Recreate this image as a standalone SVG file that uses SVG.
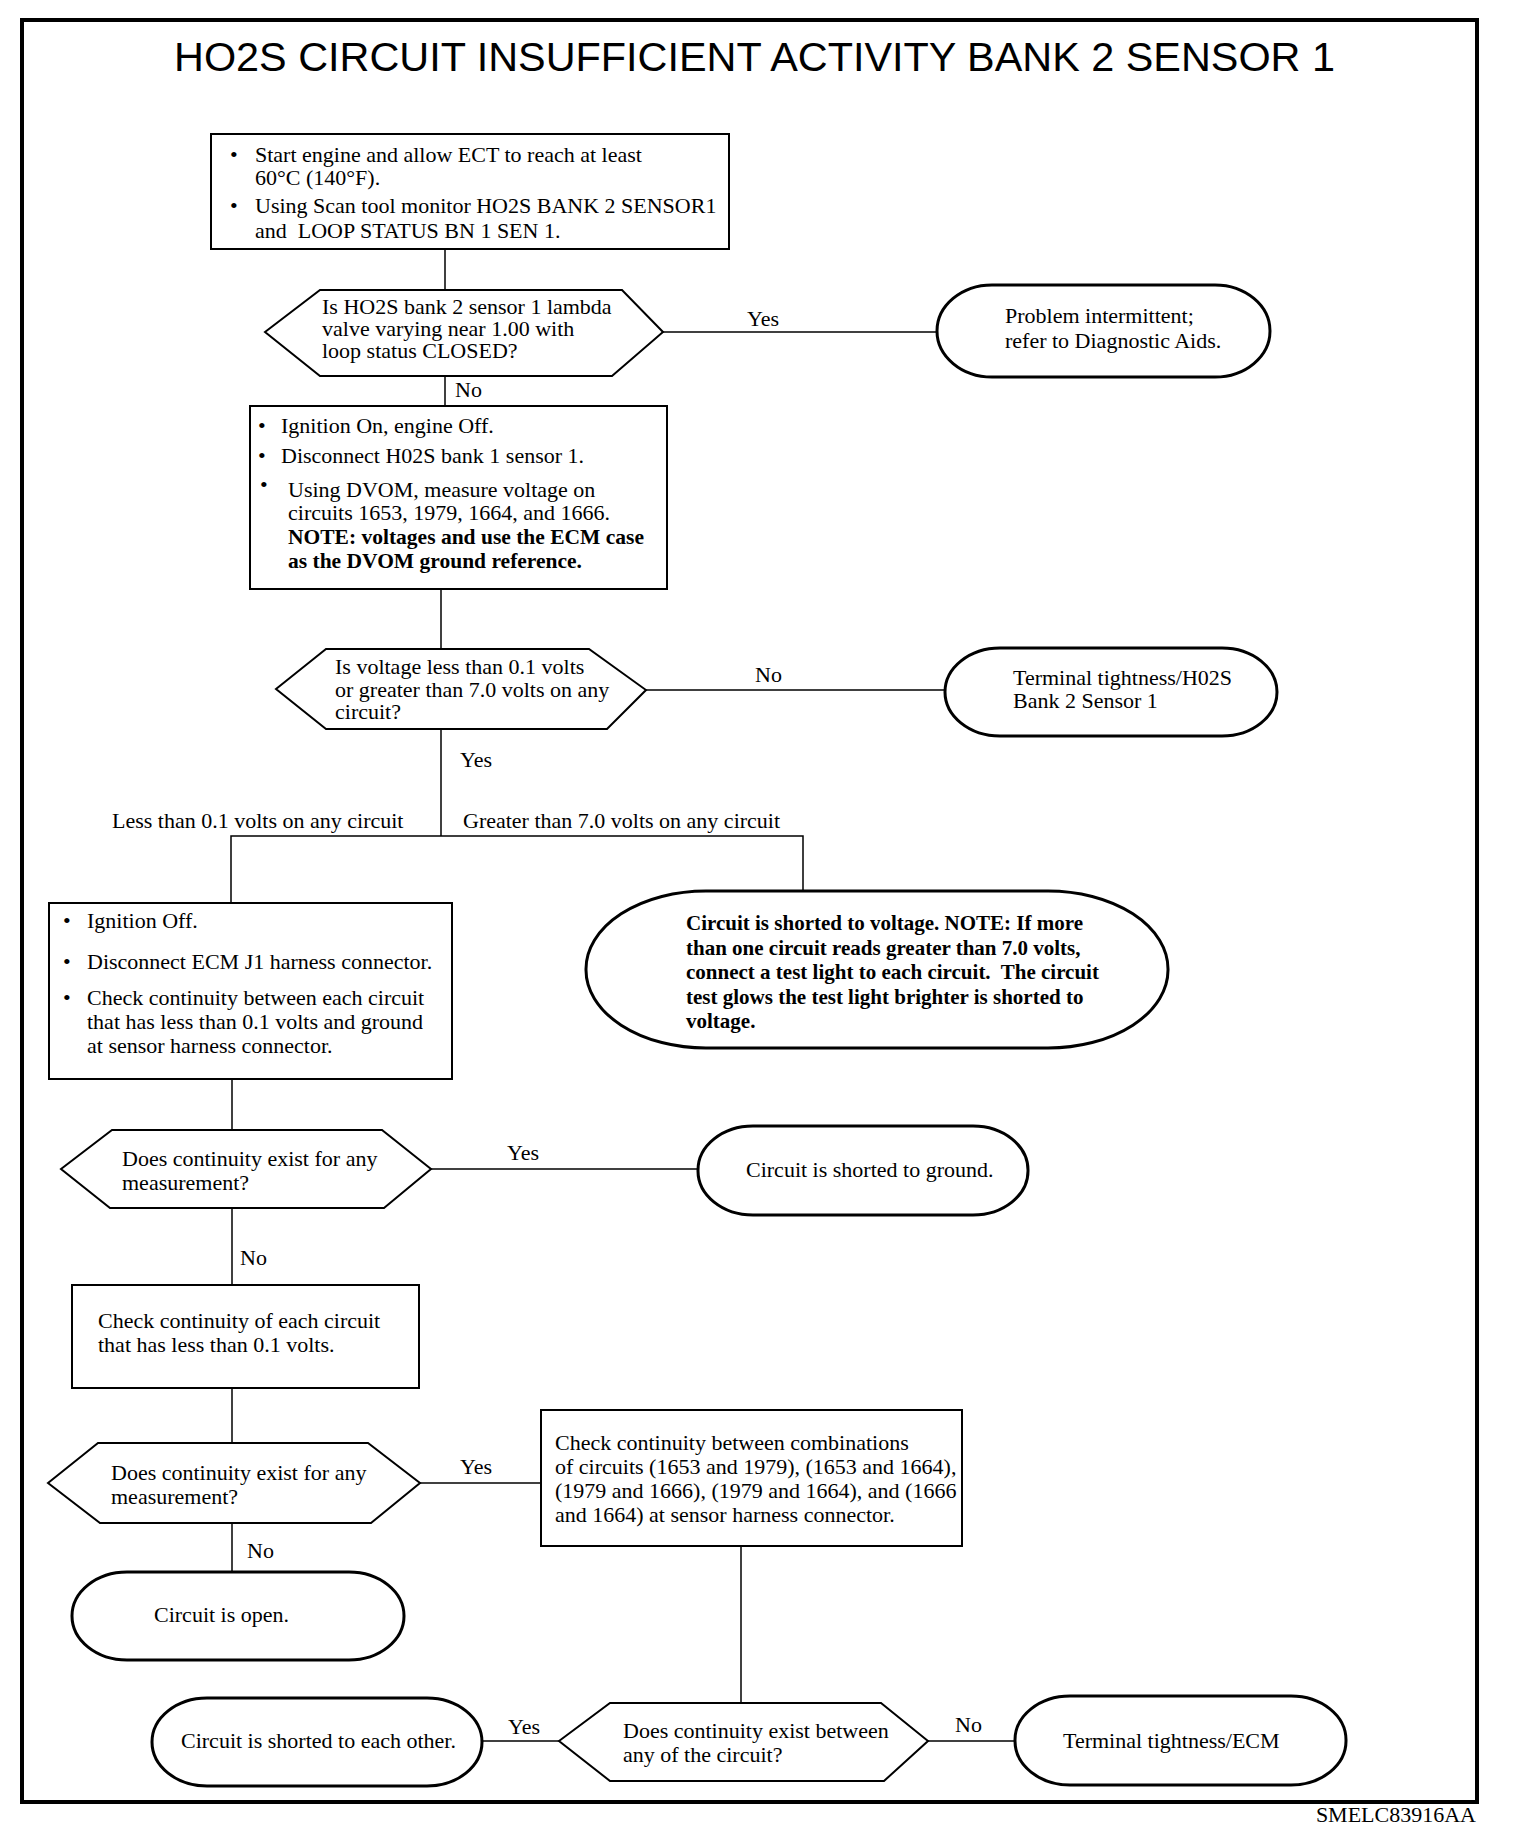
<svg xmlns="http://www.w3.org/2000/svg" width="1520" height="1840" viewBox="0 0 1520 1840">
<style>
.frame{fill:none;stroke:#000;stroke-width:4}
.box{fill:#fff;stroke:#000;stroke-width:2}
.dec{fill:#fff;stroke:#000;stroke-width:2;stroke-linejoin:miter}
.term{fill:#fff;stroke:#000;stroke-width:3}
.conn{fill:none;stroke:#000;stroke-width:1.5}
.t{font-family:"Liberation Serif","Times New Roman",serif;font-size:22px;fill:#000}
.b{font-weight:bold;font-size:21.5px}
.title{font-family:"Liberation Sans",Arial,sans-serif;font-size:40px;fill:#000}
</style>
<rect width="1520" height="1840" fill="#fff"/>
<rect class="frame" x="22" y="20" width="1455" height="1782"/>
<text class="title" x="174" y="71" textLength="1161" lengthAdjust="spacingAndGlyphs">HO2S CIRCUIT INSUFFICIENT ACTIVITY BANK 2 SENSOR 1</text>

<g id="connectors">
<line class="conn" x1="445" y1="249" x2="445" y2="290"/>
<line class="conn" x1="663" y1="332" x2="937" y2="332"/>
<line class="conn" x1="445" y1="376" x2="445" y2="406"/>
<line class="conn" x1="441" y1="589" x2="441" y2="649"/>
<line class="conn" x1="646" y1="690" x2="945" y2="690"/>
<line class="conn" x1="441" y1="729" x2="441" y2="836"/>
<polyline class="conn" points="231,903 231,836 803,836 803,891"/>
<line class="conn" x1="232" y1="1079" x2="232" y2="1130"/>
<line class="conn" x1="431" y1="1169" x2="698" y2="1169"/>
<line class="conn" x1="232" y1="1209" x2="232" y2="1285"/>
<line class="conn" x1="232" y1="1388" x2="232" y2="1443"/>
<line class="conn" x1="420" y1="1483" x2="541" y2="1483"/>
<line class="conn" x1="232" y1="1523" x2="232" y2="1572"/>
<line class="conn" x1="741" y1="1546" x2="741" y2="1703"/>
<line class="conn" x1="482" y1="1741" x2="559" y2="1741"/>
<line class="conn" x1="928" y1="1741" x2="1015" y2="1741"/>
<text class="t" x="747" y="326">Yes</text>
<text class="t" x="455" y="397">No</text>
<text class="t" x="755" y="682">No</text>
<text class="t" x="460" y="767">Yes</text>
<text class="t" x="112" y="828">Less than 0.1 volts on any circuit</text>
<text class="t" x="463" y="828">Greater than 7.0 volts on any circuit</text>
<text class="t" x="507" y="1160">Yes</text>
<text class="t" x="240" y="1265">No</text>
<text class="t" x="460" y="1474">Yes</text>
<text class="t" x="247" y="1558">No</text>
<text class="t" x="508" y="1734">Yes</text>
<text class="t" x="955" y="1732">No</text>
</g>

<g id="step1">
<rect class="box" x="211" y="134" width="518" height="115"/>
<text class="t" x="230" y="162">•</text>
<text class="t" x="255" y="162">Start engine and allow ECT to reach at least</text>
<text class="t" x="255" y="185">60°C (140°F).</text>
<text class="t" x="230" y="213">•</text>
<text class="t" x="255" y="213">Using Scan tool monitor HO2S BANK 2 SENSOR1</text>
<text class="t" x="255" y="238" xml:space="preserve">and  LOOP STATUS BN 1 SEN 1.</text>
</g>

<g id="dec1">
<polygon class="dec" points="265,332 320,290 622,290 663,332 612,376 320,376"/>
<text class="t" x="322" y="314">Is HO2S bank 2 sensor 1 lambda</text>
<text class="t" x="322" y="336">valve varying near 1.00 with</text>
<text class="t" x="322" y="358">loop status CLOSED?</text>
</g>

<g id="term1">
<rect class="term" x="937" y="285" width="333" height="92" rx="55" ry="46"/>
<text class="t" x="1005" y="323">Problem intermittent;</text>
<text class="t" x="1005" y="348">refer to Diagnostic Aids.</text>
</g>

<g id="step2">
<rect class="box" x="250" y="406" width="417" height="183"/>
<text class="t" x="258" y="433">•</text>
<text class="t" x="281" y="433">Ignition On, engine Off.</text>
<text class="t" x="258" y="463">•</text>
<text class="t" x="281" y="463">Disconnect H02S bank 1 sensor 1.</text>
<text class="t" x="260" y="492">•</text>
<text class="t" x="288" y="497">Using DVOM, measure voltage on</text>
<text class="t" x="288" y="520">circuits 1653, 1979, 1664, and 1666.</text>
<text class="t b" x="288" y="544">NOTE: voltages and use the ECM case</text>
<text class="t b" x="288" y="568">as the DVOM ground reference.</text>
</g>

<g id="dec2">
<polygon class="dec" points="276,689 326,649 589,649 646,690 607,729 326,729"/>
<text class="t" x="335" y="674">Is voltage less than 0.1 volts</text>
<text class="t" x="335" y="697">or greater than 7.0 volts on any</text>
<text class="t" x="335" y="719">circuit?</text>
</g>

<g id="term2">
<rect class="term" x="945" y="648" width="332" height="88" rx="55" ry="44"/>
<text class="t" x="1013" y="685">Terminal tightness/H02S</text>
<text class="t" x="1013" y="708">Bank 2 Sensor 1</text>
</g>

<g id="step3">
<rect class="box" x="49" y="903" width="403" height="176"/>
<text class="t" x="63" y="928">•</text>
<text class="t" x="87" y="928">Ignition Off.</text>
<text class="t" x="63" y="969">•</text>
<text class="t" x="87" y="969">Disconnect ECM J1 harness connector.</text>
<text class="t" x="63" y="1005">•</text>
<text class="t" x="87" y="1005">Check continuity between each circuit</text>
<text class="t" x="87" y="1029">that has less than 0.1 volts and ground</text>
<text class="t" x="87" y="1053">at sensor harness connector.</text>
</g>

<g id="term3">
<rect class="term" x="586" y="891" width="582" height="157" rx="120" ry="78"/>
<text class="t b" x="686" y="930" style="font-size:21px">Circuit is shorted to voltage. NOTE: If more</text>
<text class="t b" x="686" y="954.5" style="font-size:21px">than one circuit reads greater than 7.0 volts,</text>
<text class="t b" x="686" y="979" style="font-size:21px" xml:space="preserve">connect a test light to each circuit.  The circuit</text>
<text class="t b" x="686" y="1003.5" style="font-size:21px">test glows the test light brighter is shorted to</text>
<text class="t b" x="686" y="1028" style="font-size:21px">voltage.</text>
</g>

<g id="dec3">
<polygon class="dec" points="61,1169 112,1130 382,1130 431,1169 384,1208 110,1208"/>
<text class="t" x="122" y="1166">Does continuity exist for any</text>
<text class="t" x="122" y="1190">measurement?</text>
</g>

<g id="term4">
<rect class="term" x="698" y="1126" width="330" height="89" rx="55" ry="44"/>
<text class="t" x="746" y="1177">Circuit is shorted to ground.</text>
</g>

<g id="step4">
<rect class="box" x="72" y="1285" width="347" height="103"/>
<text class="t" x="98" y="1328">Check continuity of each circuit</text>
<text class="t" x="98" y="1352">that has less than 0.1 volts.</text>
</g>

<g id="dec4">
<polygon class="dec" points="48,1483 98,1443 368,1443 420,1483 371,1523 100,1523"/>
<text class="t" x="111" y="1480">Does continuity exist for any</text>
<text class="t" x="111" y="1504">measurement?</text>
</g>

<g id="step5">
<rect class="box" x="541" y="1410" width="421" height="136"/>
<text class="t" x="555" y="1450">Check continuity between combinations</text>
<text class="t" x="555" y="1474">of circuits (1653 and 1979), (1653 and 1664),</text>
<text class="t" x="555" y="1498">(1979 and 1666), (1979 and 1664), and (1666</text>
<text class="t" x="555" y="1522">and 1664) at sensor harness connector.</text>
</g>

<g id="term5">
<rect class="term" x="72" y="1572" width="332" height="88" rx="55" ry="44"/>
<text class="t" x="154" y="1622">Circuit is open.</text>
</g>

<g id="dec5">
<polygon class="dec" points="559,1741 610,1703 881,1703 928,1741 884,1781 610,1781"/>
<text class="t" x="623" y="1738">Does continuity exist between</text>
<text class="t" x="623" y="1762">any of the circuit?</text>
</g>

<g id="term6">
<rect class="term" x="152" y="1698" width="330" height="88" rx="55" ry="44"/>
<text class="t" x="181" y="1748">Circuit is shorted to each other.</text>
</g>

<g id="term7">
<rect class="term" x="1015" y="1696" width="331" height="89" rx="55" ry="44"/>
<text class="t" x="1063" y="1748">Terminal tightness/ECM</text>
</g>

<text class="t" x="1476" y="1822" text-anchor="end">SMELC83916AA</text>
</svg>
